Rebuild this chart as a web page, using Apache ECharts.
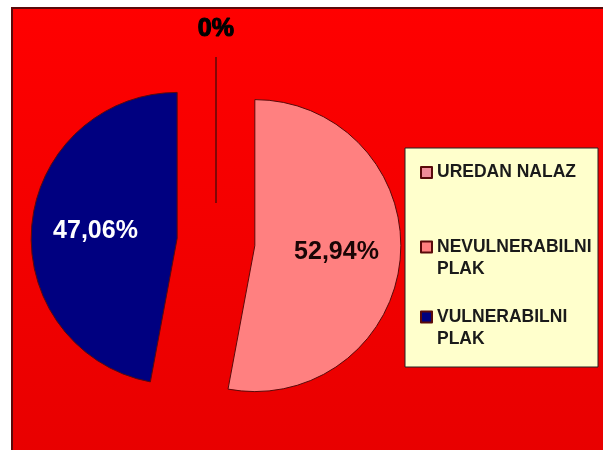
<!DOCTYPE html>
<html>
<head>
<meta charset="utf-8">
<script src="https://cdn.jsdelivr.net/npm/echarts@6/dist/echarts.min.js"></script>
<style>
  html, body { margin: 0; padding: 0; background: #fff; }
  #pie-chart { width: 603px; height: 450px; }
</style>
</head>
<body>
<div id="pie-chart"></div>
<script>
// chart data
var categories = ['UREDAN NALAZ', 'NEVULNERABILNI PLAK', 'VULNERABILNI PLAK'];
var values = [0, 52.94, 47.06];

var sliceColors = ['#F08C98', '#FF8080', '#000080'];
var labelColors = ['#000', '#1a0505', '#fff'];
var labelPads = [0, [0, 0, 0, 12], [0, 12, 0, 0]];
var legendTops = [161.5, 236, 306];

function pct(v) {
  return v === 0 ? '0%' : v.toFixed(2).replace('.', ',') + '%';
}

var font = 'Liberation Sans, Arial, sans-serif';

var seriesData = categories.map(function(name, i) {
  return {
    name: name,
    value: values[i],
    selected: true,
    itemStyle: { color: sliceColors[i] },
    label: {
      position: i === 0 ? 'outside' : 'inside',
      color: labelColors[i],
      padding: labelPads[i],
      textBorderColor: i === 0 ? '#000' : 'transparent',
      textBorderWidth: i === 0 ? 1.2 : 0
    },
    labelLine: { show: false, length: 28, length2: 0 }
  };
});

// one legend per entry; for two-line names the swatch sits at the top of a taller icon box
var legends = categories.map(function(name, i) {
  var twoLine = name.indexOf(' PLAK') > 0;
  return {
    data: [name],
    orient: 'vertical',
    left: 420,
    top: legendTops[i],
    padding: 0,
    itemWidth: 11,
    itemHeight: twoLine ? 33 : 11,
    selectedMode: false,
    icon: twoLine ? 'path://M0,0H11V11H0ZM0,33L0,33' : 'rect',
    formatter: function(n) { return n.replace(' PLAK', '\nPLAK'); },
    textStyle: {
      fontFamily: font,
      fontWeight: 'bold',
      fontSize: 17.5,
      lineHeight: 22,
      color: '#1a1a1a'
    }
  };
});

var myPie = echarts.init(document.getElementById('pie-chart'));
var option = {
  animation: false,
  backgroundColor: '#fff',
  graphic: [
    {
      type: 'rect', z: -10, silent: true,
      shape: { x: 12, y: 8, width: 600, height: 450 },
      style: {
        fill: new echarts.graphic.LinearGradient(0, 0, 0, 1, [
          { offset: 0, color: '#ff0000' },
          { offset: 1, color: '#e80000' }
        ]),
        stroke: '#5a0a0a', lineWidth: 2
      }
    },
    {
      type: 'rect', z: -5, silent: true,
      shape: { x: 405, y: 148, width: 193, height: 219 },
      style: { fill: '#ffffcc', stroke: '#222', lineWidth: 1 }
    }
  ],
  legend: legends,
  series: [
    {
      type: 'pie',
      center: [216, 242],
      radius: 146,
      startAngle: 90,
      clockwise: true,
      selectedMode: 'multiple',
      selectedOffset: 39,
      avoidLabelOverlap: false,
      itemStyle: { borderColor: '#5a0a0a', borderWidth: 1 },
      select: { itemStyle: { borderColor: '#5a0a0a', borderWidth: 1 } },
      emphasis: { disabled: true },
      label: {
        show: true,
        fontFamily: font,
        fontWeight: 'bold',
        fontSize: 25,
        distanceToLabelLine: -18,
        formatter: function(p) { return pct(p.value); }
      },
      data: seriesData
    }
  ]
};
myPie.setOption(option);
</script>
</body>
</html>
